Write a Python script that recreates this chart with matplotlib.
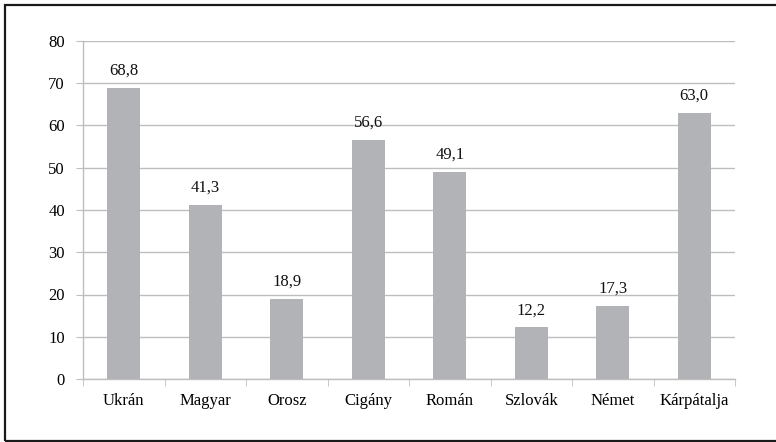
import matplotlib
matplotlib.use("Agg")
import matplotlib.pyplot as plt
from matplotlib.patches import Rectangle

plt.rcParams['font.family'] = ['Liberation Serif', 'DejaVu Serif']

categories = ["Ukrán", "Magyar", "Orosz", "Cigány", "Román", "Szlovák", "Német", "Kárpátalja"]
values = [68.8, 41.3, 18.9, 56.6, 49.1, 12.2, 17.3, 63.0]
yticks = [0, 10, 20, 30, 40, 50, 60, 70, 80]

W, H = 776, 442
fig = plt.figure(figsize=(W / 100, H / 100), dpi=100)

# outer frame
fig.patches.append(Rectangle((5 / W, 1 - 441 / H), 1.0, (441 - 5) / H, transform=fig.transFigure,
                             fill=False, edgecolor='#1a1a1a', linewidth=1.6))

x0, x1, ytop, ybot = 83, 735, 41, 379
ax = fig.add_axes([x0 / W, 1 - ybot / H, (x1 - x0) / W, (ybot - ytop) / H])

FS = 12
xs = list(range(len(categories)))
bars = ax.bar(xs, values, width=0.40, color='#B1B3B6', zorder=3)
for x, v in zip(xs, values):
    ax.text(x, v + 2.2, f"{v:.1f}".replace('.', ','), ha='center', va='bottom', fontsize=FS, color='#111111')

ax.set_xlim(-0.5, len(categories) - 0.5)
ax.set_ylim(0, 80)
ax.set_yticks(yticks)
ax.set_yticklabels([str(t) for t in yticks], fontsize=FS)
ax.yaxis.grid(True, color='#BEBEBE', linewidth=1.0, zorder=0)
ax.set_xticks(xs)
ax.set_xticklabels(categories, fontsize=FS)
ax.tick_params(axis='x', length=0, pad=10)
ax.tick_params(axis='y', length=5, color='#BEBEBE', pad=8, direction='out')
# minor ticks at category boundaries
ax.set_xticks([i - 0.5 for i in range(len(categories) + 1)], minor=True)
ax.tick_params(axis='x', which='minor', length=5, color='#BEBEBE', direction='out')

for s in ['top', 'right']:
    ax.spines[s].set_visible(False)
for s in ['left', 'bottom']:
    ax.spines[s].set_color('#BEBEBE')
    ax.spines[s].set_linewidth(1.0)

fig.savefig("out.png", dpi=100)
